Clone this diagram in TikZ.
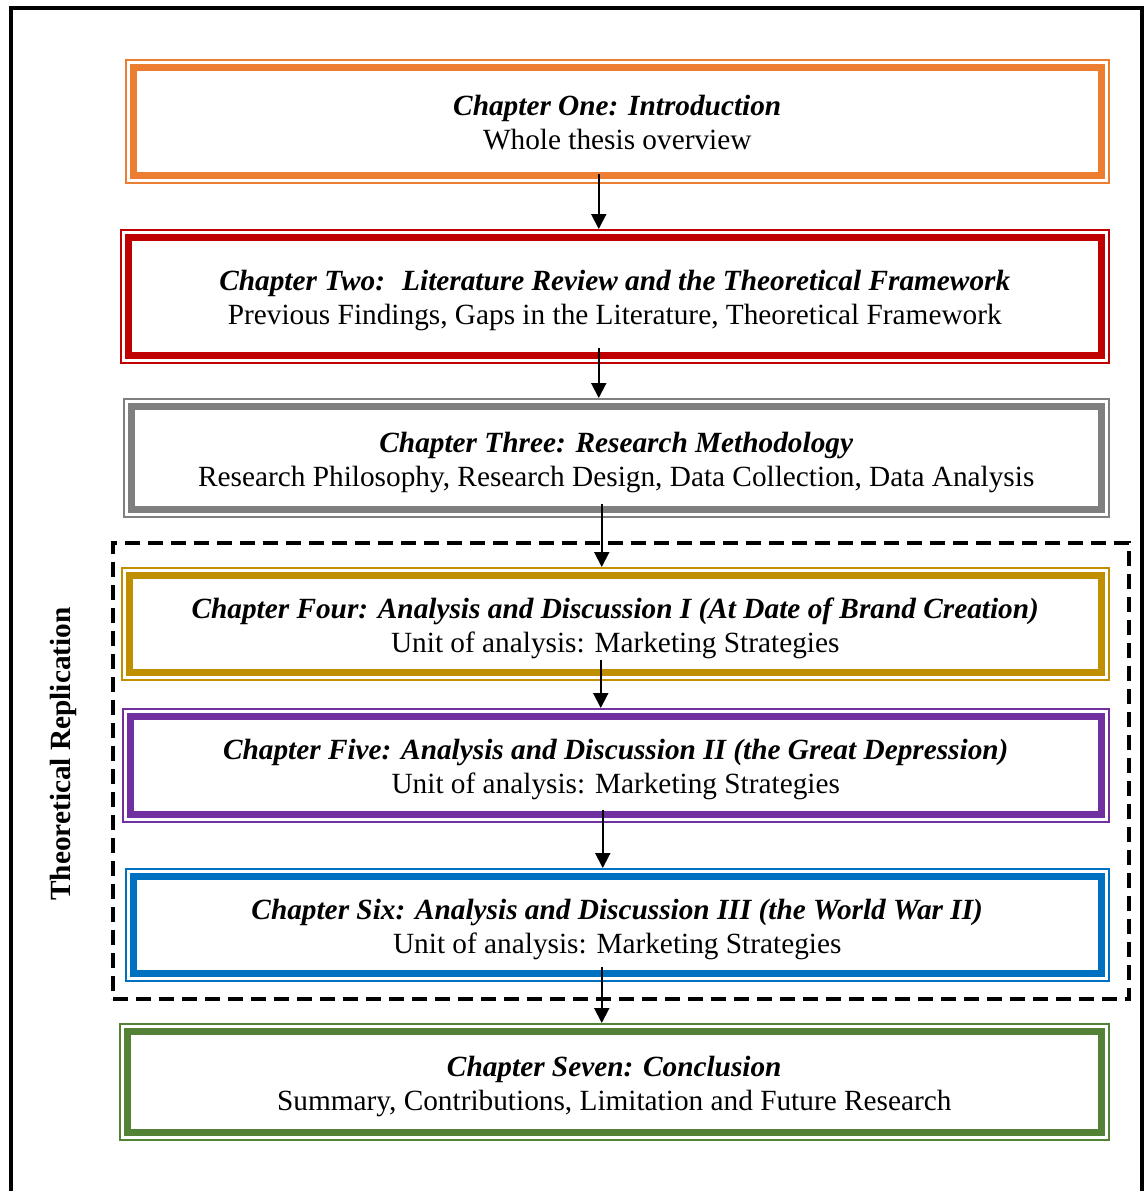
\documentclass[tikz,border=0pt]{standalone}
\usepackage{fontspec}
\setmainfont{Liberation Serif}
\usetikzlibrary{arrows.meta,calc}
\definecolor{cOrange}{HTML}{ED7D31}
\definecolor{cRed}{HTML}{C00000}
\definecolor{cGray}{HTML}{7F7F7F}
\definecolor{cGold}{HTML}{BF8F00}
\definecolor{cPurple}{HTML}{7030A0}
\definecolor{cBlue}{HTML}{0070C0}
\definecolor{cGreen}{HTML}{538135}
\newcommand{\chapbox}[8]{%
  \node[chbox=#2, minimum width=#5pt, minimum height=#6pt] (#1) at (#3,#4)
    {\rule{0pt}{30.5pt}{\bfseries\itshape #7}\\#8\rule[-8pt]{0pt}{8pt}};
  \draw[line width=7pt, draw=#2]
    ([shift={(8pt,-8pt)}]#1.north west) rectangle ([shift={(-8pt,8pt)}]#1.south east);
}
\begin{document}
\begin{tikzpicture}[x=1pt,y=-1pt,
  chbox/.style={draw=#1, line width=1.5pt, align=center, anchor=north west,
    inner sep=0pt, font=\fontsize{29.3}{34}\selectfont},
  arr/.style={line width=2pt, -{Triangle[width=15pt,length=15pt]}},
  repbox/.style={draw=black, line width=4pt, dash pattern=on 15pt off 8pt,
    anchor=north west, inner sep=0pt}]
\useasboundingbox (0,0) rectangle (1144,1191);
\clip (0,0) rectangle (1144,1191);
% outer frame (open at the bottom)
\draw[line width=4pt] (11,1200) -- (11,8) -- (1141.5,8) -- (1141.5,1200);
% dashed group
\node[repbox, minimum width=1016pt, minimum height=456pt] (rep) at (111,541) {};
\node[rotate=90, font=\fontsize{29.3}{34}\selectfont\bfseries] (replab) at (63,754) {Theoretical Replication};
% chapter boxes
\chapbox{b1}{cOrange}{125}{59}{983}{123}{Chapter One: Introduction}{Whole thesis overview}
\chapbox{b2}{cRed}{120}{229}{988}{133}{Chapter Two:~ Literature Review and the Theoretical Framework}{Previous Findings, Gaps in the Literature, Theoretical Framework}
\chapbox{b3}{cGray}{123}{398}{985}{118}{Chapter Three: Research Methodology}{Research Philosophy, Research Design, Data Collection, Data Analysis}
\chapbox{b4}{cGold}{121}{567}{987}{112}{Chapter Four: Analysis and Discussion I (At Date of Brand Creation)}{Unit of analysis: Marketing Strategies}
\chapbox{b5}{cPurple}{122}{708}{986}{113}{Chapter Five: Analysis and Discussion II (the Great Depression)}{Unit of analysis: Marketing Strategies}
\chapbox{b6}{cBlue}{125}{868}{983}{112}{Chapter Six: Analysis and Discussion III (the World War II)}{Unit of analysis: Marketing Strategies}
\chapbox{b7}{cGreen}{119}{1023}{989}{116}{Chapter Seven: Conclusion}{Summary, Contributions, Limitation and Future Research}
% arrows
\draw[arr] ([xshift=-18.5pt,yshift=10pt]b1.south) coordinate (s1) -- (s1 |- b2.north);
\draw[arr] ([xshift=-16pt,yshift=16pt]b2.south) coordinate (s2) -- (s2 |- b3.north);
\draw[arr] ([xshift=-14.5pt,yshift=14pt]b3.south) coordinate (s3) -- (s3 |- b4.north);
\draw[arr] ([xshift=-14.5pt,yshift=21pt]b4.south) coordinate (s4) -- (s4 |- b5.north);
\draw[arr] ([xshift=-13pt,yshift=13pt]b5.south) coordinate (s5) -- (s5 |- b6.north);
\draw[arr] ([xshift=-15.5pt,yshift=15pt]b6.south) coordinate (s6) -- (s6 |- b7.north);
\end{tikzpicture}
\end{document}
